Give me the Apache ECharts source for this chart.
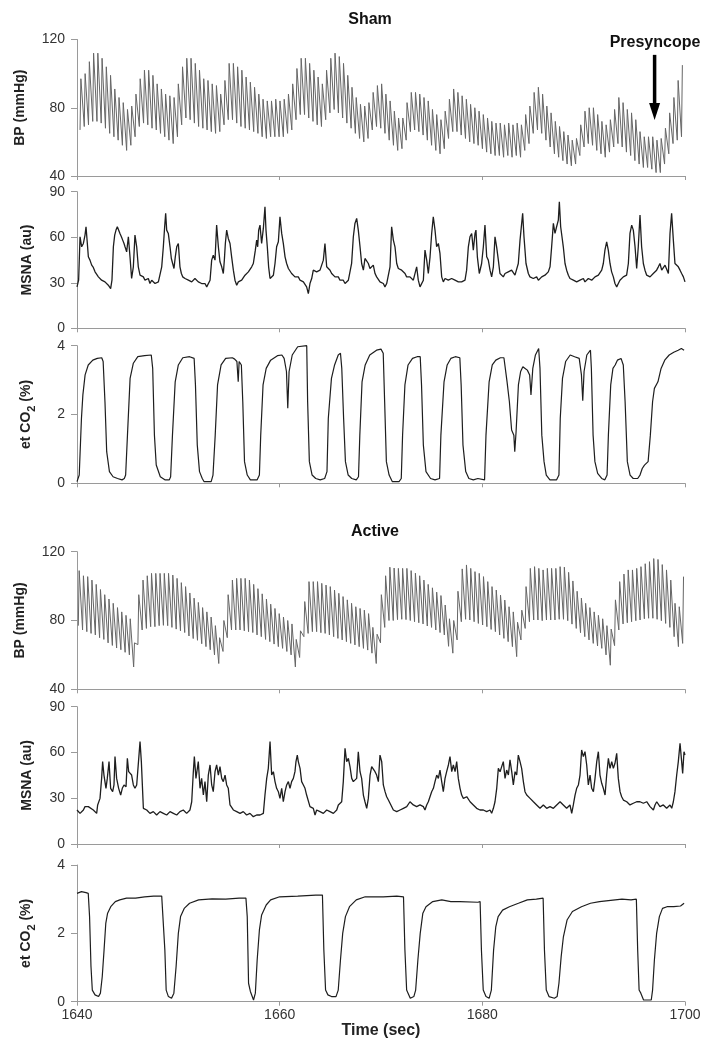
<!DOCTYPE html>
<html><head><meta charset="utf-8">
<script src="https://cdn.jsdelivr.net/npm/echarts@6/dist/echarts.min.js"></script>
<style>html,body{margin:0;padding:0;background:#fff}#c{width:708px;height:1048px}</style>
</head><body><div id="c"></div>
<script>
// ---------------- DATA ----------------
const xTicks = [1640, 1660, 1680, 1700];
const bpTicks = [40, 80, 120];
const msnaTicks = [0, 30, 60, 90];
const co2Ticks = [0, 2, 4];

// Beat-by-beat arterial pressure (systolic peak / diastolic trough), Sham
const shamBeatStart = 1640.3, shamBeatInterval = 0.418;
const shamSys = [97,100,107,112,112,109,104,99,91,86,83,79,81,88,97,102,102,99,94,91,88,87,86,94,104,109,109,106,102,97,96,94,93,88,96,106,106,104,102,98,95,92,88,85,84,
84,85,84,85,88,94,103,109,109,106,102,98,94,102,109,112,110,106,99,92,86,82,81,83,89,93,94,88,84,78,74,74,83,89,89,88,86,84,79,76,73,78,85,91,89,87,85,82,80,78,76,74,
72,71,71,70,71,70,71,70,76,81,89,92,88,81,77,72,69,66,64,61,62,70,78,80,80,76,72,70,73,79,86,83,79,77,73,66,63,63,63,61,62,68,77,86,96,105];
const shamDia = [67,69,70,72,72,71,68,65,63,61,58,55,58,63,69,71,70,68,67,65,63,61,59,63,70,74,73,71,69,68,67,66,65,66,70,73,73,71,69,68,67,66,65,63,62,
63,63,63,63,65,67,73,76,76,74,72,70,69,73,77,79,77,74,71,68,65,62,60,62,67,69,68,65,61,58,55,56,61,66,67,66,64,61,58,55,53,56,62,66,66,64,62,60,59,58,56,54,
53,52,52,51,52,51,52,51,55,59,65,67,65,61,57,53,51,49,47,46,47,52,57,59,58,55,53,51,54,57,59,57,54,52,49,47,45,45,44,42,42,47,53,59,61,63];

// Beat-by-beat arterial pressure, Active
const activeBeatStart = 1640.13, activeBeatInterval = 0.42;
const activeSys = [109,106,105.5,103.5,101,98,95,92.5,90,87.5,85,83,81,67,95,
103.5,106,107.4,107.4,107.4,107.4,107.4,106.4,104.5,102,99.7,96,93,90.5,87.5,85,82,77,70,80,95,
103.5,104.5,104.5,104.5,103.5,101,98.5,95.5,92.5,89.5,87,84,82,80,78,69,74,91,
102.6,102.6,102.6,101.6,100.6,99.7,97.7,95.8,93.9,92,90,88,87,86,84,76,72,95,
106,111,110.5,110.3,110.3,110.3,109,107.5,106,103.5,101,99,96.5,94.5,89,81,80,97,
110,112.3,110.3,108.4,107.4,105.5,102.6,99.7,97.7,94.8,91.9,88,85,79,86,99.7,
110.3,111.3,110.3,109.4,110.3,110.3,110.3,111.3,111,108,103,97,93,90,87.5,85,83,81,77,75,92,102.6,
107,109.4,109.4,110.3,111.3,113,114.2,116,115.5,112.5,109.4,103.5,90,88,105.5];
const activeDia = [77,74.5,73.5,72.5,71.6,70,69,67,65.5,64,63,61.5,60,53,66,
74.5,75.4,76.4,76.4,77,77.2,77,76,75,74,73,71,69.5,68.5,66.5,64.8,63,60,55,62,70,
74.5,74.5,74.5,74,73.5,73,71.6,70.6,69,67.7,66.3,64.8,63.8,62,60,53,58.5,70.6,
72.5,73.5,73.5,72.9,72.5,71.6,70.6,69.6,68.7,67.7,66.7,65.8,64.8,63.8,62.8,61,55,67,
76,80,80,80.5,80.7,80.5,80,79.3,78.7,78,76.8,76,74.5,73,71.6,65,61,68.7,
79.3,80.7,80.3,79.3,78.3,77.4,76.4,74.8,73.5,71.6,69.6,67.7,64.8,59,68.7,75.4,
79.3,80.3,80.3,79.9,80.3,80.3,80.3,80.7,80.7,79.9,77.9,75.4,72.9,70.6,68.7,66.7,65.2,63.8,60,54,65.4,74.5,
78,78.7,79.3,79.9,80.3,81,81.3,81.3,80.7,79.9,78.3,76,70.6,64.8,66.7];

// MSNA [time, au], Sham
const shamMsna = [[1640.00,27.3],[1640.16,31.7],[1640.30,60.3],[1640.46,53.7],[1640.63,55.9],[1640.79,61.4],[1640.89,66.9],[1641.02,55.9],[1641.12,47.1],[1641.28,44.9],[1641.45,41.6],[1641.61,40.1],[1641.78,37.2],[1641.94,36.1],[1642.11,33.9],[1642.27,35.0],[1642.43,31.7],[1642.60,32.8],[1642.76,30.6],[1642.93,31.7],[1643.09,28.4],[1643.32,26.2],[1643.45,31.7],[1643.59,53.7],[1643.72,61.4],[1643.85,64.7],[1643.98,66.9],[1644.08,65.8],[1644.24,62.5],[1644.38,60.3],[1644.51,58.1],[1644.64,55.9],[1644.74,53.7],[1644.90,50.4],[1645.07,60.3],[1645.23,47.1],[1645.39,32.8],[1645.56,40.5],[1645.72,61.4],[1645.89,53.7],[1646.05,40.5],[1646.22,35.0],[1646.38,36.1],[1646.55,33.9],[1646.71,31.7],[1646.88,30.6],[1647.04,32.8],[1647.20,29.5],[1647.37,31.7],[1647.53,30.6],[1647.70,29.5],[1647.86,28.4],[1648.03,30.6],[1648.19,31.7],[1648.36,40.5],[1648.52,53.7],[1648.65,66.9],[1648.75,75.7],[1648.85,64.7],[1649.01,62.5],[1649.18,53.7],[1649.31,46.0],[1649.44,42.7],[1649.57,39.4],[1649.70,47.1],[1649.84,53.7],[1650.00,55.9],[1650.16,40.5],[1650.30,36.1],[1650.43,33.9],[1650.66,32.8],[1650.82,33.9],[1650.99,31.7],[1651.15,32.8],[1651.32,30.6],[1651.48,31.7],[1651.64,32.8],[1651.81,31.7],[1651.97,30.6],[1652.14,30.6],[1652.30,29.5],[1652.47,28.4],[1652.63,29.5],[1652.80,27.3],[1652.96,28.4],[1653.13,31.7],[1653.29,44.9],[1653.45,48.2],[1653.62,44.9],[1653.78,68.0],[1653.95,53.7],[1654.11,43.8],[1654.28,40.5],[1654.44,36.1],[1654.54,44.9],[1654.64,55.9],[1654.77,64.7],[1654.93,59.2],[1655.10,55.9],[1655.26,47.1],[1655.43,38.3],[1655.59,31.7],[1655.76,28.4],[1655.92,30.6],[1656.09,29.5],[1656.25,31.7],[1656.41,32.8],[1656.58,35.0],[1656.74,33.9],[1656.91,37.2],[1657.07,38.3],[1657.24,40.5],[1657.40,42.7],[1657.50,47.1],[1657.60,51.5],[1657.73,58.1],[1657.83,53.7],[1657.93,64.7],[1658.06,68.0],[1658.22,55.9],[1658.39,65.8],[1658.55,80.1],[1658.65,64.7],[1658.78,53.7],[1658.91,40.5],[1659.05,32.8],[1659.21,31.7],[1659.38,35.0],[1659.54,42.7],[1659.70,53.7],[1659.87,57.0],[1660.03,73.5],[1660.20,62.5],[1660.36,55.9],[1660.53,47.1],[1660.69,42.7],[1660.86,39.4],[1661.02,38.3],[1661.18,36.1],[1661.35,35.0],[1661.51,33.9],[1661.68,32.8],[1661.84,33.9],[1662.01,31.7],[1662.17,32.8],[1662.34,30.6],[1662.50,29.5],[1662.66,27.3],[1662.83,22.9],[1662.99,29.5],[1663.16,32.8],[1663.32,38.3],[1663.49,39.4],[1663.65,37.2],[1663.82,36.1],[1663.98,38.3],[1664.14,37.2],[1664.31,44.9],[1664.47,55.9],[1664.64,40.5],[1664.80,39.4],[1664.97,38.3],[1665.13,36.1],[1665.30,35.0],[1665.46,33.9],[1665.63,32.8],[1665.79,33.9],[1665.95,31.7],[1666.12,30.6],[1666.28,31.7],[1666.45,29.5],[1666.61,30.6],[1666.78,31.7],[1666.94,32.8],
[1667.10,42.7],[1667.27,60.3],[1667.43,69.1],[1667.60,72.4],[1667.76,64.7],[1667.93,53.7],[1668.09,42.7],[1668.26,38.3],[1668.42,46.0],[1668.58,44.9],[1668.75,42.7],[1668.91,39.4],[1669.08,38.3],[1669.24,41.6],[1669.41,36.1],[1669.57,33.9],[1669.74,32.8],[1669.90,30.6],[1670.07,31.7],[1670.23,29.5],[1670.39,27.3],[1670.56,29.5],[1670.72,30.6],[1670.89,40.5],[1671.05,66.9],[1671.22,58.1],[1671.38,53.7],[1671.55,42.7],[1671.71,39.4],[1671.87,40.5],[1672.04,38.3],[1672.20,37.2],[1672.37,36.1],[1672.53,33.9],[1672.70,35.0],[1672.86,33.9],[1673.03,32.8],[1673.19,31.7],[1673.35,31.7],[1673.52,40.5],[1673.68,31.7],[1673.85,27.3],[1674.01,28.4],[1674.18,31.7],[1674.34,51.5],[1674.51,44.9],[1674.67,36.1],[1674.84,47.1],[1675.00,62.5],[1675.16,73.5],[1675.33,64.7],[1675.49,53.7],[1675.66,55.9],[1675.82,49.3],[1675.99,33.9],[1676.15,30.6],[1676.32,32.8],[1676.48,32.8],[1676.64,31.7],[1676.81,31.7],[1676.97,32.8],[1677.14,33.9],[1677.30,31.7],[1677.47,32.8],[1677.63,30.6],[1677.80,31.7],[1677.96,30.6],[1678.12,29.5],[1678.29,31.7],[1678.45,38.3],[1678.62,53.7],[1678.78,60.3],[1678.95,62.5],[1679.11,51.5],[1679.28,62.5],[1679.37,64.7],[1679.51,47.1],[1679.70,36.1],[1679.93,42.7],[1680.10,53.7],[1680.26,68.0],[1680.43,47.1],[1680.59,44.9],[1680.76,38.3],[1680.92,33.9],[1681.09,40.5],[1681.25,60.3],[1681.41,53.7],[1681.58,44.9],[1681.74,36.1],[1681.91,35.0],[1682.07,33.9],[1682.24,36.1],[1682.40,35.0],[1682.56,37.2],[1682.73,36.1],[1682.89,38.3],[1683.06,37.2],[1683.22,35.0],[1683.39,33.9],[1683.55,42.7],[1683.72,58.1],[1683.88,59.2],[1683.98,75.7],[1684.11,60.3],[1684.31,42.7],[1684.54,36.1],[1684.70,33.9],[1684.87,35.0],[1685.03,32.8],[1685.20,33.9],[1685.36,33.9],[1685.53,31.7],[1685.69,31.7],[1685.86,33.9],[1686.02,32.8],[1686.18,35.0],[1686.35,33.9],[1686.51,37.2],[1686.68,40.5],[1686.84,53.7],[1687.01,69.1],[1687.17,62.5],[1687.33,66.9],[1687.50,71.3],[1687.60,83.4],[1687.73,66.9],[1687.86,60.3],[1687.99,53.7],[1688.16,42.7],[1688.32,38.3],[1688.49,35.0],[1688.65,32.8],[1688.82,33.9],[1688.98,31.7],[1689.14,32.8],[1689.31,30.6],[1689.47,31.7],[1689.64,31.7],[1689.80,32.8],[1689.97,32.8],[1690.13,30.6],[1690.30,31.7],[1690.46,32.8],[1690.62,32.8],[1690.79,31.7],[1690.95,31.7],[1691.12,33.9],[1691.28,32.8],[1691.45,35.0],[1691.61,33.9],[1691.78,38.3],[1691.94,42.7],[1692.10,51.5],[1692.27,57.0],[1692.43,51.5],[1692.60,42.7],[1692.76,37.2],[1692.93,33.9],[1693.09,29.5],[1693.26,27.3],[1693.42,29.5],[1693.58,31.7],[1693.75,32.8],[1693.91,33.9],[1694.08,35.0],[1694.24,35.0],[1694.41,42.7],[1694.57,62.5],[1694.74,68.0],[1694.90,64.7],[1695.07,53.7],[1695.23,39.4],[1695.39,53.7],[1695.56,74.6],[1695.72,53.7],[1695.89,42.7],[1696.05,38.3],[1696.22,35.0],[1696.38,36.1],[1696.55,33.9],[1696.71,35.0],[1696.87,36.1],[1697.04,37.2],[1697.20,38.3],[1697.37,40.5],[1697.53,42.7],[1697.70,38.3],[1697.86,39.4],[1698.03,41.6],[1698.19,40.5],[1698.36,36.1],[1698.52,62.5],[1698.68,75.7],[1698.85,58.1],[1699.01,42.7],[1699.18,41.6],[1699.34,40.5],[1699.51,38.3],[1699.67,36.1],[1699.84,33.9],[1700.00,30.6]];

// MSNA [time, au], Active
const activeMsna = [[1640.00,22.3],[1640.30,20.1],[1640.63,22.3],[1640.79,24.5],[1640.95,25.6],[1641.12,24.5],[1641.28,23.4],[1641.61,22.3],[1641.94,20.1],[1642.04,25.6],[1642.27,29.9],[1642.43,43.0],[1642.53,54.0],[1642.66,45.2],[1642.86,36.5],[1642.99,43.0],[1643.16,54.0],[1643.32,36.5],[1643.52,34.3],[1643.65,38.7],[1643.75,57.3],[1643.91,43.0],[1644.11,36.5],[1644.31,32.1],[1644.47,36.5],[1644.64,38.7],[1644.84,37.6],[1644.97,56.2],[1645.10,47.4],[1645.23,48.5],[1645.39,45.2],[1645.56,38.7],[1645.72,36.5],[1645.89,38.7],[1646.05,37.6],[1646.22,67.1],[1646.35,54.0],[1646.55,23.4],[1646.88,22.3],[1647.20,20.1],[1647.53,21.2],[1647.86,19.0],[1648.19,21.2],[1648.52,20.1],[1648.85,19.0],[1649.18,21.2],[1649.51,20.1],[1649.84,19.0],[1650.16,21.2],[1650.49,22.3],[1650.82,20.1],[1651.15,22.3],[1651.32,27.7],[1651.48,47.4],[1651.58,57.3],[1651.74,43.0],[1651.97,54.0],[1652.14,36.5],[1652.30,43.0],[1652.47,32.1],[1652.63,40.9],[1652.80,27.7],[1652.96,45.2],[1653.13,51.8],[1653.29,38.7],[1653.45,34.3],[1653.62,47.4],[1653.78,51.8],[1653.95,45.2],[1654.11,50.7],[1654.28,43.0],[1654.44,40.9],[1654.61,45.2],[1654.77,38.7],[1654.93,36.5],[1655.10,25.6],[1655.43,22.3],[1655.76,21.2],[1656.09,20.1],[1656.41,21.2],[1656.74,19.0],[1657.07,20.1],[1657.40,17.9],[1657.73,19.0],[1658.06,19.0],[1658.39,20.1],[1658.55,32.1],[1658.72,43.0],[1658.88,49.6],[1659.05,67.1],[1659.21,45.2],[1659.38,47.4],[1659.54,40.9],[1659.70,36.5],[1659.87,34.3],[1660.03,29.9],[1660.20,36.5],[1660.36,27.7],[1660.53,34.3],[1660.69,38.7],[1660.86,40.9],[1661.02,36.5],[1661.18,40.9],[1661.35,43.0],[1661.51,47.4],[1661.61,54.0],[1661.74,58.3],[1661.84,54.0],[1662.01,49.6],[1662.17,40.9],[1662.34,38.7],[1662.50,36.5],[1662.66,32.1],[1662.99,24.5],[1663.32,23.4],[1663.49,19.0],[1663.65,22.3],[1663.98,21.2],[1664.14,22.3],[1664.31,20.1],[1664.64,22.3],[1664.97,21.2],[1665.30,20.1],[1665.63,22.3],[1665.79,25.6],[1665.95,24.5],[1666.12,27.7],[1666.28,40.9],[1666.45,62.7],[1666.61,54.0],[1666.78,56.2],[1666.94,50.7],[1667.11,43.0],[1667.27,40.9],[1667.43,40.9],[1667.60,43.0],[1667.76,60.5],
[1667.93,47.4],[1668.09,43.0],[1668.26,32.1],[1668.42,27.7],[1668.59,23.4],[1668.75,29.9],[1668.92,45.2],[1669.08,50.7],[1669.25,51.8],[1669.41,47.4],[1669.57,45.2],[1669.74,40.9],[1669.90,58.3],[1670.07,54.0],[1670.23,38.7],[1670.40,34.3],[1670.56,31.0],[1670.73,28.8],[1670.89,26.7],[1671.06,25.6],[1671.22,22.3],[1671.55,21.2],[1671.88,22.3],[1672.21,23.4],[1672.54,24.5],[1672.86,27.7],[1673.19,25.6],[1673.52,24.5],[1673.85,25.6],[1674.18,24.5],[1674.34,22.3],[1674.51,25.6],[1674.67,27.7],[1674.84,28.8],[1675.00,34.3],[1675.17,36.5],[1675.33,40.9],[1675.50,45.2],[1675.66,43.0],[1675.82,48.5],[1675.99,40.9],[1676.15,34.3],[1676.32,43.0],[1676.48,47.4],[1676.65,51.8],[1676.81,57.3],[1676.98,47.4],[1677.14,51.8],[1677.31,47.4],[1677.47,54.0],[1677.63,43.0],[1677.80,36.5],[1677.96,32.1],[1678.13,29.9],[1678.46,31.0],[1678.79,27.7],[1679.11,25.6],[1679.44,23.4],[1679.77,22.3],[1680.10,22.3],[1680.43,21.2],[1680.76,22.3],[1680.92,20.1],[1681.09,23.4],[1681.25,27.7],[1681.42,36.5],[1681.58,49.6],[1681.75,47.4],[1681.91,50.7],[1682.07,54.0],[1682.24,43.0],[1682.40,48.5],[1682.57,45.2],[1682.73,55.1],[1682.90,47.4],[1683.06,38.7],[1683.23,47.4],[1683.39,45.2],[1683.55,58.3],[1683.72,54.0],[1683.88,49.6],[1684.05,40.9],[1684.21,34.3],[1684.38,32.1],[1684.71,29.9],[1685.04,27.7],[1685.36,25.6],[1685.69,23.4],[1686.02,25.6],[1686.35,23.4],[1686.68,24.5],[1687.01,23.4],[1687.34,25.6],[1687.67,27.7],[1687.99,25.6],[1688.32,23.4],[1688.49,22.3],[1688.65,25.6],[1688.82,20.1],[1688.98,25.6],[1689.15,32.1],[1689.31,36.5],[1689.48,38.7],[1689.64,45.2],[1689.80,61.6],[1689.97,57.3],[1690.13,60.5],[1690.30,51.8],[1690.46,38.7],[1690.63,45.2],[1690.79,36.5],[1690.96,34.3],[1691.12,43.0],[1691.29,54.0],[1691.45,60.5],[1691.61,45.2],[1691.78,39.8],[1691.94,36.5],[1692.11,32.1],[1692.27,45.2],[1692.44,56.2],[1692.60,49.6],[1692.77,54.0],[1692.93,49.6],[1693.09,52.9],[1693.26,59.4],[1693.42,43.0],[1693.59,34.3],[1693.75,31.0],[1693.92,28.8],[1694.25,27.7],[1694.57,25.6],[1694.90,26.7],[1695.23,27.7],[1695.56,27.7],[1695.89,26.7],[1696.22,27.7],[1696.55,24.5],[1696.88,22.3],[1697.04,25.6],[1697.21,27.7],[1697.37,26.7],[1697.53,24.5],[1697.86,25.6],[1698.19,23.4],[1698.36,22.3],[1698.52,25.6],[1698.69,23.4],[1698.85,27.7],[1699.01,34.3],[1699.18,45.2],[1699.34,54.0],[1699.51,66.0],[1699.67,54.0],[1699.77,46.3],[1699.90,60.5],[1700.00,58.3]];

// End-tidal CO2 [time, %], Sham
const shamCo2 = [[1640.00,0.05],[1640.22,0.24],[1640.44,1.89],[1640.58,2.57],[1640.80,3.15],[1641.11,3.44],[1641.56,3.58],[1642.00,3.63],[1642.44,3.65],[1642.58,3.54],[1642.76,2.37],[1642.93,0.92],[1643.20,0.34],[1643.56,0.19],[1644.00,0.14],[1644.44,0.10],[1644.67,0.14],[1644.80,0.24],[1644.98,1.40],[1645.24,3.05],[1645.56,3.49],[1646.00,3.68],[1646.67,3.71],[1647.33,3.73],[1647.47,3.34],[1647.64,1.40],[1647.82,0.53],[1648.22,0.19],[1648.67,0.10],[1649.11,0.10],[1649.24,0.19],[1649.42,1.40],[1649.69,2.95],[1650.00,3.44],[1650.44,3.65],[1651.11,3.68],[1651.56,3.63],[1651.69,2.86],[1651.87,1.11],[1652.09,0.34],[1652.36,0.14],[1652.53,0.05],[1653.24,0.05],[1653.42,0.24],[1653.64,1.40],[1653.87,2.86],[1654.22,3.44],[1654.67,3.63],[1655.33,3.65],[1655.56,3.61],[1655.78,3.54],[1655.91,2.95],[1656.00,3.54],[1656.22,3.44],[1656.36,2.37],[1656.53,0.63],[1656.80,0.24],[1657.11,0.10],[1657.78,0.10],[1658.00,0.24],[1658.13,1.40],[1658.36,2.86],[1658.67,3.34],[1659.11,3.58],[1659.78,3.71],[1660.22,3.73],[1660.44,3.63],[1660.67,3.25],[1660.80,2.18],[1660.93,3.25],[1661.24,3.73],[1661.78,3.97],[1662.67,4.00],[1662.76,2.37],[1662.93,0.63],[1663.20,0.24],[1663.56,0.14],[1664.00,0.10],[1664.44,0.14],[1664.67,0.34],[1664.80,1.89],[1665.11,3.05],[1665.42,3.44],[1665.78,3.73],[1666.00,3.78],[1666.13,3.34],[1666.31,1.89],[1666.49,0.63],[1666.76,0.24],[1667.11,0.14],[1667.56,0.10],[1667.78,0.19],[1667.91,1.40],[1668.13,2.95],[1668.44,3.44],[1668.89,3.73],[1669.56,3.87],[1670.00,3.90],[1670.22,3.78],[1670.36,2.37],[1670.53,0.63],[1670.80,0.24],[1671.11,0.05],[1671.78,0.05],[1672.00,0.14],[1672.13,1.40],[1672.36,2.86],[1672.67,3.44],[1673.11,3.63],[1673.56,3.68],[1673.87,3.68],[1674.00,2.86],[1674.18,1.11],[1674.44,0.34],[1674.89,0.14],[1675.33,0.10],[1675.78,0.14],[1675.91,1.40],[1676.22,2.95],[1676.53,3.44],[1676.89,3.63],[1677.33,3.68],[1677.78,3.65],[1677.91,2.86],[1678.09,1.11],[1678.36,0.34],[1678.67,0.14],[1679.11,0.10],[1679.56,0.14],[1680.22,0.10],[1680.36,1.40],[1680.67,2.95],[1680.98,3.44],[1681.33,3.58],[1681.78,3.65],[1682.13,3.65],[1682.31,3.61],[1682.44,2.95],[1682.67,2.37],[1682.89,1.55],[1683.11,1.40],[1683.20,0.92],[1683.33,1.50],[1683.56,2.86],[1683.78,3.25],[1684.00,3.39],[1684.22,3.34],[1684.44,3.29],[1684.67,3.15],[1684.80,2.57],[1684.98,3.34],[1685.24,3.73],[1685.56,3.92],[1685.69,3.34],[1685.87,1.40],[1686.09,0.63],[1686.31,0.24],[1686.67,0.10],[1687.33,0.10],[1687.56,0.24],[1687.69,1.89],[1687.91,3.05],[1688.22,3.54],[1688.67,3.73],[1689.11,3.68],[1689.56,3.63],[1689.78,3.15],[1689.91,2.40],[1690.04,3.25],[1690.31,3.73],[1690.67,3.87],[1690.76,3.34],[1690.93,1.40],[1691.11,0.63],[1691.38,0.29],[1691.78,0.14],[1692.09,0.10],[1692.31,0.24],[1692.44,1.40],[1692.67,2.86],[1692.89,3.34],[1693.11,3.44],[1693.33,3.58],[1693.69,3.63],[1693.91,3.44],[1694.09,2.37],[1694.31,0.63],[1694.58,0.24],[1694.89,0.14],[1695.33,0.14],[1695.56,0.24],[1695.78,0.43],[1696.00,0.53],[1696.36,0.63],[1696.58,1.40],[1696.80,2.37],[1696.98,2.76],[1697.11,2.71],[1697.33,2.95],[1697.64,3.34],[1698.00,3.58],[1698.44,3.73],[1698.89,3.81],[1699.33,3.87],[1699.64,3.92],[1699.91,3.87]];

// End-tidal CO2 [time, %], Active
const activeCo2 = [[1640.00,3.17],[1640.44,3.22],[1640.89,3.19],[1641.11,3.17],[1641.24,2.49],[1641.38,1.03],[1641.51,0.34],[1641.78,0.20],[1642.13,0.15],[1642.31,0.25],[1642.49,0.73],[1642.67,1.51],[1642.84,2.29],[1643.02,2.59],[1643.33,2.78],[1643.78,2.93],[1644.22,2.98],[1644.89,3.03],[1645.78,3.03],[1646.67,3.07],[1647.56,3.09],[1648.36,3.09],[1648.53,3.07],[1648.67,1.51],[1648.80,0.34],[1649.02,0.15],[1649.33,0.10],[1649.56,0.25],[1649.78,1.03],[1650.00,2.00],[1650.22,2.49],[1650.58,2.73],[1651.11,2.88],[1652.00,2.98],[1653.33,3.01],[1654.67,3.00],[1656.00,3.03],[1656.67,3.03],[1656.80,2.49],[1656.93,0.54],[1657.11,0.30],[1657.24,0.25],[1657.42,0.05],[1657.60,0.25],[1657.78,1.22],[1658.00,2.10],[1658.22,2.54],[1658.67,2.83],[1659.11,2.98],[1660.00,3.07],[1661.78,3.09],[1663.56,3.12],[1664.22,3.12],[1664.36,1.51],[1664.53,0.34],[1664.76,0.20],[1665.11,0.15],[1665.56,0.15],[1665.78,0.34],[1666.00,1.22],[1666.22,2.00],[1666.49,2.49],[1666.89,2.78],[1667.56,2.98],[1668.44,3.07],[1670.22,3.07],[1671.56,3.09],[1672.22,3.07],[1672.36,1.51],[1672.53,0.34],[1672.67,0.25],[1672.89,0.10],[1673.24,0.15],[1673.42,0.34],[1673.64,1.22],[1673.87,2.00],[1674.13,2.59],[1674.44,2.78],[1675.11,2.93],[1676.00,2.98],[1676.89,2.93],[1677.78,2.93],[1679.56,2.91],[1679.78,2.93],[1679.91,1.51],[1680.09,0.34],[1680.36,0.15],[1680.67,0.10],[1680.89,0.34],[1681.11,1.51],[1681.33,2.20],[1681.56,2.49],[1682.00,2.68],[1682.67,2.78],[1683.56,2.88],[1684.44,2.98],[1685.33,3.00],[1686.00,3.03],[1686.13,1.51],[1686.31,0.34],[1686.58,0.15],[1687.11,0.10],[1687.38,0.15],[1687.56,0.54],[1687.78,1.32],[1688.00,1.90],[1688.36,2.39],[1688.89,2.64],[1689.78,2.78],[1690.67,2.88],[1691.56,2.93],[1692.44,2.96],[1693.78,3.00],[1694.67,2.98],[1695.20,3.00],[1695.33,1.51],[1695.47,0.34],[1695.64,0.25],[1695.91,0.05],[1696.67,0.05],[1696.80,0.34],[1696.98,1.22],[1697.20,2.00],[1697.47,2.49],[1697.78,2.73],[1698.22,2.78],[1698.89,2.78],[1699.56,2.80],[1699.91,2.88]];

// Presyncope marker (time, BP range spanned by the arrow)
const presyncopeT = 1697.0, presyncopeFrom = 111, presyncopeTo = 72.8;

// ---------------- CHART ----------------
function beatWave(start, interval, sys, dia) {
  const pts = [];
  for (let i = 0; i < sys.length; i++) {
    const t = start + i * interval;
    pts.push([t, dia[i]]);
    pts.push([t + interval * 0.2, sys[i]]);
  }
  return pts;
}

const FONT = 'Liberation Sans, Arial, sans-serif';
const AX = '#9a9a9a';
const panels = [
  {top: 39.5, h: 136.5, ticks: bpTicks, name: 'BP (mmHg)', gap: 45},
  {top: 191.7, h: 136.6, ticks: msnaTicks, name: 'MSNA (au)', gap: 38},
  {top: 345.7, h: 137.6, ticks: co2Ticks, name: 'et CO{s|2} (%)', gap: 40},
  {top: 551.7, h: 137.6, ticks: bpTicks, name: 'BP (mmHg)', gap: 45},
  {top: 706.7, h: 137.3, ticks: msnaTicks, name: 'MSNA (au)', gap: 38},
  {top: 865, h: 136.7, ticks: co2Ticks, name: 'et CO{s|2} (%)', gap: 40}
];

const grid = panels.map(p => ({left: 77, width: 608, top: p.top, height: p.h, outerBoundsMode: 'none', containLabel: false}));
const xAxis = panels.map((p, i) => ({
  type: 'value', gridIndex: i, min: xTicks[0], max: xTicks[xTicks.length - 1], interval: xTicks[1] - xTicks[0],
  axisLine: {show: true, onZero: false, lineStyle: {color: AX, width: 1}},
  axisTick: {show: true, length: 4, lineStyle: {color: AX}},
  axisLabel: {show: i === 5, color: '#333', fontSize: 14, fontFamily: FONT, margin: 6, formatter: v => String(v)},
  splitLine: {show: false},
  name: i === 5 ? 'Time (sec)' : '', nameLocation: 'middle', nameGap: 21,
  nameTextStyle: {fontSize: 16, fontWeight: 'bold', color: '#222', fontFamily: FONT}
}));
const yAxis = panels.map((p, i) => ({
  type: 'value', gridIndex: i, min: p.ticks[0], max: p.ticks[p.ticks.length - 1], interval: p.ticks[1] - p.ticks[0],
  axisLine: {show: true, lineStyle: {color: AX, width: 1}},
  axisTick: {show: true, length: 6, lineStyle: {color: AX}},
  axisLabel: {color: '#333', fontSize: 14, fontFamily: FONT, margin: 12, formatter: v => String(v)},
  splitLine: {show: false},
  name: p.name, nameLocation: 'middle', nameRotate: 90, nameGap: p.gap,
  nameTextStyle: {fontSize: 14, fontWeight: 'bold', color: '#222', fontFamily: FONT, lineHeight: 22,
    rich: {s: {fontSize: 11, fontWeight: 'bold', color: '#222', fontFamily: FONT, lineHeight: 11, verticalAlign: 'bottom'}}}
}));

function lineSeries(idx, data, color, width) {
  return {type: 'line', xAxisIndex: idx, yAxisIndex: idx, data: data, showSymbol: false, symbol: 'none',
    lineStyle: {color: color, width: width}, animation: false, silent: true, z: 3};
}

const series = [
  lineSeries(0, beatWave(shamBeatStart, shamBeatInterval, shamSys, shamDia), '#666', 1),
  lineSeries(1, shamMsna, '#1e1e1e', 1.3),
  lineSeries(2, shamCo2, '#1e1e1e', 1.2),
  lineSeries(3, beatWave(activeBeatStart, activeBeatInterval, activeSys, activeDia), '#666', 1),
  lineSeries(4, activeMsna, '#1e1e1e', 1.3),
  lineSeries(5, activeCo2, '#1e1e1e', 1.2)
];

const chart = echarts.init(document.getElementById('c'), null, {renderer: 'canvas'});
chart.setOption({
  backgroundColor: '#fff',
  animation: false,
  grid, xAxis, yAxis, series
});

// Titles, label and arrow; the arrow is placed through the BP panel's own scales
const pA = chart.convertToPixel({gridIndex: 0}, [presyncopeT, presyncopeFrom]);
const pB = chart.convertToPixel({gridIndex: 0}, [presyncopeT, presyncopeTo]);
const headH = 17, headW = 11;
chart.setOption({
  graphic: [
    {type: 'text', x: 370, y: 20, style: {text: 'Sham', font: 'bold 16px ' + FONT, fill: '#111', textAlign: 'center', textVerticalAlign: 'middle'}},
    {type: 'text', x: 375, y: 532, style: {text: 'Active', font: 'bold 16px ' + FONT, fill: '#111', textAlign: 'center', textVerticalAlign: 'middle'}},
    {type: 'text', x: 655, y: 43, style: {text: 'Presyncope', font: 'bold 16px ' + FONT, fill: '#111', textAlign: 'center', textVerticalAlign: 'middle'}},
    {type: 'line', shape: {x1: pA[0], y1: pA[1], x2: pB[0], y2: pB[1] - headH + 1}, style: {stroke: '#000', lineWidth: 3.5}, z: 10},
    {type: 'polygon', shape: {points: [[pB[0] - headW / 2, pB[1] - headH], [pB[0] + headW / 2, pB[1] - headH], [pB[0], pB[1]]]}, style: {fill: '#000'}, z: 10}
  ]
});
</script></body></html>
